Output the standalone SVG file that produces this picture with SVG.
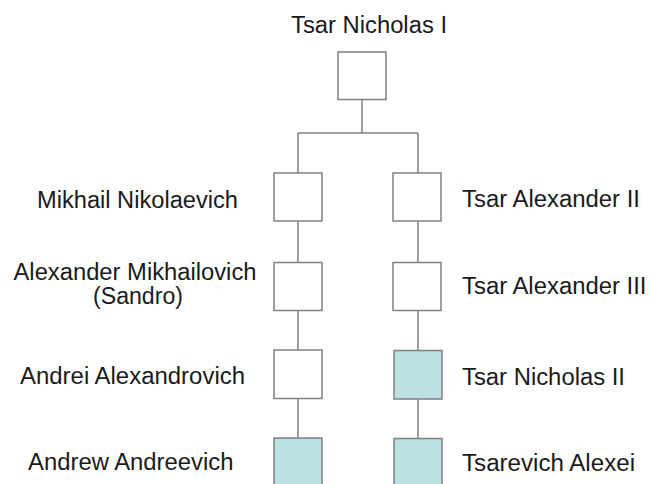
<svg xmlns="http://www.w3.org/2000/svg" width="651" height="484" viewBox="0 0 651 484">
<style>
  .box { fill: #ffffff; stroke: #808080; stroke-width: 1.5; }
  .hl { fill: #bbdfe2; }
  .lbl { font-family: "Liberation Sans", Arial, sans-serif; font-size: 23px; fill: #1a1a1a; }
  .con { fill: none; stroke: #808080; stroke-width: 1.5; }
</style>
<rect width="651" height="484" fill="#ffffff"/>
<g id="connectors">
  <path class="con" d="M362 99.5 V133 M298 133 H418 M298 133 V173 M418 133 V173"/>
  <path class="con" d="M298 221 V262.5 M298 310.5 V350 M298 398.5 V438"/>
  <path class="con" d="M418 221 V262.5 M418 310.5 V350.5 M418 399 V438.5"/>
</g>
<g id="nicholas1">
  <rect class="box" x="338" y="52" width="48" height="47.5"/>
  <text class="lbl" x="291" y="33" textLength="156" lengthAdjust="spacingAndGlyphs">Tsar Nicholas I</text>
</g>
<g id="mikhail">
  <rect class="box" x="274" y="173" width="48" height="48"/>
  <text class="lbl" x="37" y="207.5" textLength="201" lengthAdjust="spacingAndGlyphs">Mikhail Nikolaevich</text>
</g>
<g id="sandro">
  <rect class="box" x="274" y="262.5" width="48" height="48"/>
  <text class="lbl" x="13.5" y="280" textLength="243" lengthAdjust="spacingAndGlyphs">Alexander Mikhailovich</text>
  <text class="lbl" x="93" y="304" textLength="90" lengthAdjust="spacingAndGlyphs">(Sandro)</text>
</g>
<g id="andrei">
  <rect class="box" x="274" y="350" width="48" height="48.5"/>
  <text class="lbl" x="20" y="383.5" textLength="225" lengthAdjust="spacingAndGlyphs">Andrei Alexandrovich</text>
</g>
<g id="andrew">
  <rect class="box hl" x="274" y="438" width="48" height="50"/>
  <text class="lbl" x="28" y="470" textLength="205.5" lengthAdjust="spacingAndGlyphs">Andrew Andreevich</text>
</g>
<g id="alexander2">
  <rect class="box" x="393" y="173" width="48" height="48"/>
  <text class="lbl" x="462" y="206.5" textLength="178" lengthAdjust="spacingAndGlyphs">Tsar Alexander II</text>
</g>
<g id="alexander3">
  <rect class="box" x="393" y="262.5" width="48" height="48"/>
  <text class="lbl" x="462" y="293.5" textLength="184.5" lengthAdjust="spacingAndGlyphs">Tsar Alexander III</text>
</g>
<g id="nicholas2">
  <rect class="box hl" x="394" y="350.5" width="48" height="48.5"/>
  <text class="lbl" x="462" y="385" textLength="163" lengthAdjust="spacingAndGlyphs">Tsar Nicholas II</text>
</g>
<g id="alexei">
  <rect class="box hl" x="394" y="438.5" width="48" height="50"/>
  <text class="lbl" x="462" y="470.5" textLength="173" lengthAdjust="spacingAndGlyphs">Tsarevich Alexei</text>
</g>
</svg>
